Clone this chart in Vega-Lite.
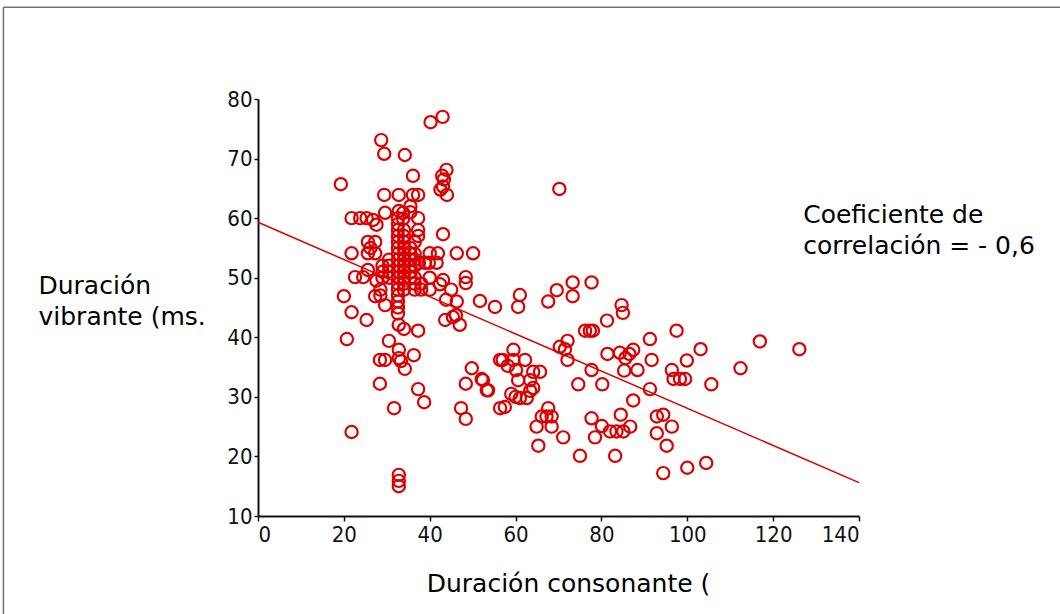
{
  "$schema": "https://vega.github.io/schema/vega-lite/v6.json",
  "width": 601,
  "height": 417,
  "autosize": {"type": "none"},
  "padding": {"left": 258, "top": 99, "right": 201, "bottom": 98},
  "background": "white",
  "config": {
    "view": {"stroke": null},
    "axis": {
      "grid": false,
      "domainColor": "#111111",
      "domainWidth": 2,
      "tickColor": "#111111",
      "tickWidth": 1.5,
      "tickSize": 4,
      "labelFont": "DejaVu Sans Condensed, sans-serif",
      "labelFontSize": 22,
      "labelColor": "#111111",
      "titleFont": "DejaVu Sans",
      "titleFontSize": 25,
      "titleFontWeight": "normal",
      "titleColor": "#000000"
    }
  },
  "datasets": {
    "marco": [{}],
    "puntos": [
      {"consonante": 40.2, "vibrante": 76.1}, {"consonante": 43.0, "vibrante": 77.0},
      {"consonante": 28.7, "vibrante": 73.1}, {"consonante": 29.4, "vibrante": 70.8},
      {"consonante": 34.2, "vibrante": 70.6}, {"consonante": 19.3, "vibrante": 65.7},
      {"consonante": 36.1, "vibrante": 67.1}, {"consonante": 42.9, "vibrante": 67.1},
      {"consonante": 43.9, "vibrante": 68.1}, {"consonante": 43.3, "vibrante": 66.5},
      {"consonante": 43.1, "vibrante": 65.3}, {"consonante": 44.0, "vibrante": 63.9},
      {"consonante": 42.5, "vibrante": 64.8}, {"consonante": 70.2, "vibrante": 64.9},
      {"consonante": 29.4, "vibrante": 63.9}, {"consonante": 32.8, "vibrante": 63.9},
      {"consonante": 36.1, "vibrante": 63.9}, {"consonante": 37.3, "vibrante": 63.9},
      {"consonante": 29.6, "vibrante": 60.9}, {"consonante": 21.8, "vibrante": 60.0},
      {"consonante": 23.8, "vibrante": 60.0}, {"consonante": 25.3, "vibrante": 60.0},
      {"consonante": 26.8, "vibrante": 59.7}, {"consonante": 27.6, "vibrante": 58.9},
      {"consonante": 33.8, "vibrante": 60.9}, {"consonante": 33.8, "vibrante": 59.9},
      {"consonante": 32.8, "vibrante": 61.2}, {"consonante": 37.3, "vibrante": 60.0},
      {"consonante": 37.3, "vibrante": 58.0}, {"consonante": 37.3, "vibrante": 57.0},
      {"consonante": 43.1, "vibrante": 57.3}, {"consonante": 21.8, "vibrante": 54.1},
      {"consonante": 25.6, "vibrante": 56.0}, {"consonante": 27.3, "vibrante": 56.0},
      {"consonante": 25.6, "vibrante": 54.1}, {"consonante": 27.3, "vibrante": 54.1},
      {"consonante": 26.2, "vibrante": 55.0}, {"consonante": 22.6, "vibrante": 50.1},
      {"consonante": 24.5, "vibrante": 50.1}, {"consonante": 25.6, "vibrante": 51.3},
      {"consonante": 27.6, "vibrante": 49.5}, {"consonante": 40.0, "vibrante": 54.1},
      {"consonante": 41.9, "vibrante": 54.1}, {"consonante": 46.3, "vibrante": 54.1},
      {"consonante": 50.1, "vibrante": 54.1}, {"consonante": 48.4, "vibrante": 50.1},
      {"consonante": 48.4, "vibrante": 49.1}, {"consonante": 43.1, "vibrante": 49.6},
      {"consonante": 41.6, "vibrante": 52.5}, {"consonante": 39.8, "vibrante": 52.5},
      {"consonante": 38.9, "vibrante": 52.5}, {"consonante": 37.5, "vibrante": 52.5},
      {"consonante": 32.6, "vibrante": 60}, {"consonante": 32.6, "vibrante": 59},
      {"consonante": 32.6, "vibrante": 58}, {"consonante": 32.6, "vibrante": 57},
      {"consonante": 32.6, "vibrante": 56}, {"consonante": 32.6, "vibrante": 55},
      {"consonante": 32.6, "vibrante": 54}, {"consonante": 32.6, "vibrante": 53},
      {"consonante": 32.6, "vibrante": 52}, {"consonante": 32.6, "vibrante": 51},
      {"consonante": 32.6, "vibrante": 50}, {"consonante": 32.6, "vibrante": 49},
      {"consonante": 32.6, "vibrante": 48}, {"consonante": 32.6, "vibrante": 47},
      {"consonante": 32.6, "vibrante": 46}, {"consonante": 32.6, "vibrante": 45},
      {"consonante": 32.6, "vibrante": 44},
      {"consonante": 34.0, "vibrante": 58}, {"consonante": 34.0, "vibrante": 57},
      {"consonante": 34.0, "vibrante": 56}, {"consonante": 34.0, "vibrante": 55},
      {"consonante": 34.0, "vibrante": 54}, {"consonante": 34.0, "vibrante": 53},
      {"consonante": 34.0, "vibrante": 52}, {"consonante": 34.0, "vibrante": 51},
      {"consonante": 34.0, "vibrante": 50}, {"consonante": 34.0, "vibrante": 49},
      {"consonante": 34.0, "vibrante": 48},
      {"consonante": 35.5, "vibrante": 62}, {"consonante": 35.5, "vibrante": 61},
      {"consonante": 35.5, "vibrante": 55}, {"consonante": 35.5, "vibrante": 54},
      {"consonante": 35.5, "vibrante": 53}, {"consonante": 35.5, "vibrante": 52},
      {"consonante": 35.5, "vibrante": 51}, {"consonante": 35.5, "vibrante": 50},
      {"consonante": 36.5, "vibrante": 56}, {"consonante": 36.5, "vibrante": 54},
      {"consonante": 36.5, "vibrante": 53}, {"consonante": 36.5, "vibrante": 52},
      {"consonante": 36.5, "vibrante": 50}, {"consonante": 36.5, "vibrante": 49},
      {"consonante": 36.5, "vibrante": 48},
      {"consonante": 30.5, "vibrante": 53}, {"consonante": 30.5, "vibrante": 52},
      {"consonante": 30.5, "vibrante": 51}, {"consonante": 30.5, "vibrante": 50},
      {"consonante": 29.0, "vibrante": 52}, {"consonante": 29.0, "vibrante": 51},
      {"consonante": 29.0, "vibrante": 50}, {"consonante": 28.5, "vibrante": 48},
      {"consonante": 28.5, "vibrante": 47}, {"consonante": 38.0, "vibrante": 49},
      {"consonante": 38.0, "vibrante": 48}, {"consonante": 40.0, "vibrante": 48},
      {"consonante": 40.0, "vibrante": 50},
      {"consonante": 20.0, "vibrante": 46.9}, {"consonante": 21.8, "vibrante": 44.2},
      {"consonante": 25.3, "vibrante": 42.9}, {"consonante": 27.3, "vibrante": 46.9},
      {"consonante": 29.6, "vibrante": 45.4}, {"consonante": 32.8, "vibrante": 42.1},
      {"consonante": 34.0, "vibrante": 41.4}, {"consonante": 37.3, "vibrante": 41.1},
      {"consonante": 20.7, "vibrante": 39.7}, {"consonante": 30.5, "vibrante": 39.4},
      {"consonante": 28.4, "vibrante": 36.2}, {"consonante": 29.6, "vibrante": 36.2},
      {"consonante": 32.8, "vibrante": 37.9}, {"consonante": 32.8, "vibrante": 36.5},
      {"consonante": 36.3, "vibrante": 37.0}, {"consonante": 34.2, "vibrante": 34.7},
      {"consonante": 28.4, "vibrante": 32.2}, {"consonante": 37.3, "vibrante": 31.3},
      {"consonante": 38.7, "vibrante": 29.1}, {"consonante": 31.7, "vibrante": 28.1},
      {"consonante": 21.8, "vibrante": 24.1}, {"consonante": 32.8, "vibrante": 16.9},
      {"consonante": 32.8, "vibrante": 15.9}, {"consonante": 32.8, "vibrante": 15.0},
      {"consonante": 33.3, "vibrante": 36.0},
      {"consonante": 46.3, "vibrante": 46.0}, {"consonante": 43.6, "vibrante": 42.9},
      {"consonante": 45.4, "vibrante": 43.4}, {"consonante": 47.0, "vibrante": 42.1},
      {"consonante": 46.1, "vibrante": 43.7}, {"consonante": 51.7, "vibrante": 46.1},
      {"consonante": 55.2, "vibrante": 45.1}, {"consonante": 43.8, "vibrante": 46.3},
      {"consonante": 42.4, "vibrante": 48.9}, {"consonante": 45.0, "vibrante": 48.0},
      {"consonante": 49.8, "vibrante": 34.8}, {"consonante": 48.4, "vibrante": 32.2},
      {"consonante": 52.1, "vibrante": 33.0}, {"consonante": 53.3, "vibrante": 31.1},
      {"consonante": 47.3, "vibrante": 28.1}, {"consonante": 48.4, "vibrante": 26.3},
      {"consonante": 56.4, "vibrante": 36.2}, {"consonante": 56.4, "vibrante": 28.1},
      {"consonante": 61.0, "vibrante": 47.1}, {"consonante": 60.6, "vibrante": 45.1},
      {"consonante": 67.6, "vibrante": 46.0}, {"consonante": 69.6, "vibrante": 47.9},
      {"consonante": 73.3, "vibrante": 49.2}, {"consonante": 73.3, "vibrante": 46.9},
      {"consonante": 77.7, "vibrante": 49.2}, {"consonante": 84.7, "vibrante": 45.4},
      {"consonante": 85.0, "vibrante": 44.1}, {"consonante": 81.3, "vibrante": 42.8},
      {"consonante": 76.2, "vibrante": 41.1}, {"consonante": 77.3, "vibrante": 41.1},
      {"consonante": 78.0, "vibrante": 41.1}, {"consonante": 97.5, "vibrante": 41.1},
      {"consonante": 116.9, "vibrante": 39.3}, {"consonante": 126.1, "vibrante": 38.0},
      {"consonante": 72.1, "vibrante": 39.4}, {"consonante": 71.5, "vibrante": 38.0},
      {"consonante": 72.1, "vibrante": 36.2}, {"consonante": 91.3, "vibrante": 39.7},
      {"consonante": 103.1, "vibrante": 38.0}, {"consonante": 99.9, "vibrante": 36.1},
      {"consonante": 96.4, "vibrante": 34.5}, {"consonante": 96.8, "vibrante": 33.0},
      {"consonante": 98.3, "vibrante": 33.0}, {"consonante": 99.5, "vibrante": 33.0},
      {"consonante": 105.6, "vibrante": 32.1}, {"consonante": 112.4, "vibrante": 34.8},
      {"consonante": 91.7, "vibrante": 36.2}, {"consonante": 88.4, "vibrante": 34.5},
      {"consonante": 85.3, "vibrante": 34.4}, {"consonante": 87.4, "vibrante": 37.9},
      {"consonante": 86.5, "vibrante": 37.2}, {"consonante": 85.6, "vibrante": 36.5},
      {"consonante": 84.3, "vibrante": 37.4}, {"consonante": 81.4, "vibrante": 37.2},
      {"consonante": 77.7, "vibrante": 34.5}, {"consonante": 74.6, "vibrante": 32.1},
      {"consonante": 80.2, "vibrante": 32.1}, {"consonante": 91.3, "vibrante": 31.3},
      {"consonante": 87.4, "vibrante": 29.4}, {"consonante": 67.6, "vibrante": 28.1},
      {"consonante": 66.1, "vibrante": 26.7}, {"consonante": 67.2, "vibrante": 26.7},
      {"consonante": 68.4, "vibrante": 26.7}, {"consonante": 64.9, "vibrante": 25.0},
      {"consonante": 68.4, "vibrante": 25.0}, {"consonante": 65.3, "vibrante": 21.8},
      {"consonante": 71.1, "vibrante": 23.2}, {"consonante": 77.7, "vibrante": 26.4},
      {"consonante": 80.1, "vibrante": 25.1}, {"consonante": 82.0, "vibrante": 24.2},
      {"consonante": 83.5, "vibrante": 24.2}, {"consonante": 85.1, "vibrante": 24.2},
      {"consonante": 78.5, "vibrante": 23.2}, {"consonante": 84.5, "vibrante": 27.0},
      {"consonante": 86.7, "vibrante": 25.0}, {"consonante": 92.9, "vibrante": 26.7},
      {"consonante": 94.4, "vibrante": 27.0}, {"consonante": 96.4, "vibrante": 25.0},
      {"consonante": 92.9, "vibrante": 23.9}, {"consonante": 95.2, "vibrante": 21.8},
      {"consonante": 75.0, "vibrante": 20.1}, {"consonante": 83.2, "vibrante": 20.1},
      {"consonante": 100.0, "vibrante": 18.1}, {"consonante": 104.4, "vibrante": 18.9},
      {"consonante": 94.4, "vibrante": 17.2}, {"consonante": 59.5, "vibrante": 37.9},
      {"consonante": 57.0, "vibrante": 36.2}, {"consonante": 59.5, "vibrante": 36.2},
      {"consonante": 62.2, "vibrante": 36.2}, {"consonante": 60.6, "vibrante": 32.8},
      {"consonante": 63.4, "vibrante": 32.8}, {"consonante": 64.1, "vibrante": 34.2},
      {"consonante": 65.7, "vibrante": 34.2}, {"consonante": 61.0, "vibrante": 29.8},
      {"consonante": 62.6, "vibrante": 29.8}, {"consonante": 57.5, "vibrante": 28.3},
      {"consonante": 53.6, "vibrante": 31.1}, {"consonante": 52.4, "vibrante": 32.8},
      {"consonante": 70.3, "vibrante": 38.4}, {"consonante": 64.1, "vibrante": 31.5},
      {"consonante": 63.4, "vibrante": 31.0}, {"consonante": 60.1, "vibrante": 34.5},
      {"consonante": 58.2, "vibrante": 35.2}, {"consonante": 60.0, "vibrante": 30.0},
      {"consonante": 59.0, "vibrante": 30.5}
    ],
    "ajuste": [
      {"consonante": 0, "vibrante": 59.3},
      {"consonante": 140, "vibrante": 15.6}
    ],
    "nota": [
      {"consonante": 127, "vibrante": 62.6, "texto": "Coeficiente de\ncorrelación = - 0,6"}
    ]
  },
  "layer": [
    {
      "data": {"name": "marco"},
      "mark": {"type": "rule", "color": "#707070", "strokeWidth": 1.5, "clip": false},
      "encoding": {
        "x": {"datum": -59.3, "type": "quantitative"},
        "y": {"datum": 95.4, "type": "quantitative"},
        "y2": {"datum": -20}
      }
    },
    {
      "data": {"name": "marco"},
      "mark": {"type": "rule", "color": "#707070", "strokeWidth": 1.5, "clip": false},
      "encoding": {
        "x": {"datum": -59.3, "type": "quantitative"},
        "x2": {"datum": 200},
        "y": {"datum": 95.4, "type": "quantitative"}
      }
    },
    {
      "data": {"name": "ajuste"},
      "mark": {"type": "line", "color": "#dd0000", "strokeWidth": 1.5},
      "encoding": {
        "x": {"field": "consonante", "type": "quantitative"},
        "y": {"field": "vibrante", "type": "quantitative"}
      }
    },
    {
      "data": {"name": "puntos"},
      "mark": {"type": "point", "shape": "circle", "filled": false, "color": "#dd0000", "strokeWidth": 2.2, "size": 150, "opacity": 1},
      "encoding": {
        "x": {
          "field": "consonante",
          "type": "quantitative",
          "scale": {"domain": [0, 140], "nice": false, "zero": false},
          "axis": {
            "values": [0, 20, 40, 60, 80, 100, 120, 140],
            "tickSize": 5,
            "labelPadding": 3,
            "title": "Duración consonante (",
            "titleX": 310,
            "titleY": 67,
            "titleAlign": "center",
            "titleBaseline": "middle"
          }
        },
        "y": {
          "field": "vibrante",
          "type": "quantitative",
          "scale": {"domain": [10, 80], "nice": false, "zero": false},
          "axis": {
            "values": [10, 20, 30, 40, 50, 60, 70, 80],
            "labelPadding": 2,
            "title": ["Duración", "vibrante (ms."],
            "titleAngle": 0,
            "titleAlign": "left",
            "titleBaseline": "top",
            "titleX": -220,
            "titleY": 174,
            "titleLineHeight": 31
          }
        }
      }
    },
    {
      "data": {"name": "nota"},
      "mark": {"type": "text", "align": "left", "baseline": "top", "font": "DejaVu Sans", "fontSize": 25, "lineHeight": 31, "lineBreak": "\n", "color": "#000000"},
      "encoding": {
        "x": {"field": "consonante", "type": "quantitative"},
        "y": {"field": "vibrante", "type": "quantitative"},
        "text": {"field": "texto"}
      }
    }
  ]
}
